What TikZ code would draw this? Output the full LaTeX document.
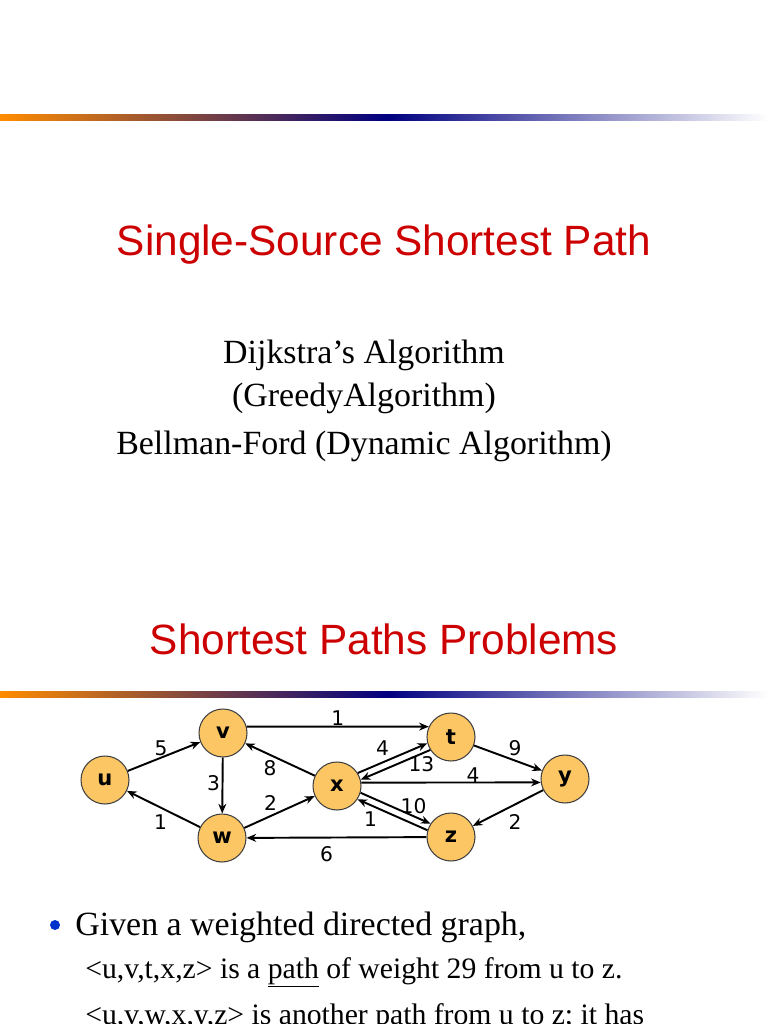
\documentclass[tikz,border=0pt]{standalone}
\usepackage{fontspec}
\setmainfont{Liberation Serif}
\newfontfamily\headfont{Liberation Sans}
\newfontfamily\graphfont{DejaVu Sans}
\usepackage{tikz}
\usetikzlibrary{arrows.meta}

\definecolor{headred}{RGB}{204,0,0}
\definecolor{barorange}{RGB}{255,140,0}
\definecolor{barnavy}{RGB}{0,0,128}
\definecolor{vtxfill}{RGB}{252,198,100}
\definecolor{dotblue}{RGB}{0,51,204}

\begin{document}
\begin{tikzpicture}[x=0.02cm, y=-0.02cm,
  head/.style={font=\headfont\fontsize{24.1pt}{29pt}\selectfont, text=headred, anchor=base, inner sep=0pt},
  body/.style={font=\fontsize{19.3pt}{23pt}\selectfont, anchor=base, inner sep=0pt},
  small/.style={font=\fontsize{16.9pt}{20pt}\selectfont, anchor=base west, inner sep=0pt},
  vtx/.style={circle, draw=black!75, line width=0.6pt, fill=vtxfill, minimum size=0.96cm, inner sep=0pt, font=\graphfont\bfseries\fontsize{12pt}{14pt}\selectfont},
  wt/.style={font=\graphfont\fontsize{11.5pt}{13pt}\selectfont, inner sep=0pt},
  arr/.style={-{Stealth[length=5.5pt,width=4.5pt]}, line width=1.1pt}
]
\useasboundingbox (0,0) rectangle (768,1024);
\clip (0,0) rectangle (768,1024);

% Bars
\shade[left color=barorange, right color=barnavy] (0,115) rectangle (387,121);
\shade[left color=barnavy, right color=white] (387,115) rectangle (768,121);
\shade[left color=barorange, right color=barnavy] (0,691) rectangle (387,697);
\shade[left color=barnavy, right color=white] (387,691) rectangle (768,697);

% Slide 1
\node[head] (ttl1) at (384,255) {Single-Source Shortest Path};
\node[body] (dijk) at (364,363) {Dijkstra’s Algorithm};
\node[body] (greedy) at (364,406) {(GreedyAlgorithm)};
\node[body] (bell) at (364,454) {Bellman-Ford (Dynamic Algorithm)};

% Slide 2
\node[head] (ttl2) at (384,654) {Shortest Paths Problems};

% Graph
\node[vtx] (u) at (105,780) {u};
\node[vtx] (v) at (223,733) {v};
\node[vtx] (w) at (222,838) {w};
\node[vtx] (x) at (337,786) {x};
\node[vtx] (t) at (451,737) {t};
\node[vtx] (y) at (565,779) {y};
\node[vtx] (z) at (451,837) {z};

\draw[arr] (u) -- (v) node[wt, midway, shift={(-3,-8.5)}] {5};
\draw[arr] (v) -- (w) node[wt, midway, shift={(-9,-2)}] {3};
\draw[arr] (w) -- (u) node[wt, midway, shift={(-3,13)}] {1};
\draw[arr] (w) -- (x) node[wt, midway, shift={(-9,-9)}] {2};
\draw[arr] (x) -- (v) node[wt, midway, shift={(-10,8.5)}] {8};
\draw[arr] (v.15) -- (t.155) node[wt, midway, shift={(0,-9)}] {1};
\draw[arr] (x.32) -- (t.195) node[wt, midway, shift={(-10,-10)}] {4};
\draw[arr] (t.212) -- (x.15) node[wt, midway, shift={(26,-1)}] {13};
\draw[arr] (x.8) -- (y.188) node[wt, midway, shift={(22,-7)}] {4};
\draw[arr] (t) -- (y) node[wt, midway, shift={(7,-10)}] {9};
\draw[arr] (y) -- (z) node[wt, midway, shift={(7,14)}] {2};
\draw[arr] (x.-16) -- (z.147) node[wt, midway, shift={(18,-2)}] {10};
\draw[arr] (z.164) -- (x.-33) node[wt, midway, shift={(-22,4)}] {1};
\draw[arr] (z) -- (w) node[wt, midway, shift={(-10,17)}] {6};

% Bullet text
\node[circle, fill=dotblue, minimum size=0.2cm, inner sep=0pt] (dot) at (55,925) {};
\node[body, anchor=base west] (given) at (75,935) {Given a weighted directed graph,};
\node[small] (path1) at (85,978) {<u,v,t,x,z> is a \underline{path} of weight 29 from u to z.};
\node[small] (path2) at (85,1024) {<u,v,w,x,y,z> is another path from u to z; it has};
\end{tikzpicture}
\end{document}
